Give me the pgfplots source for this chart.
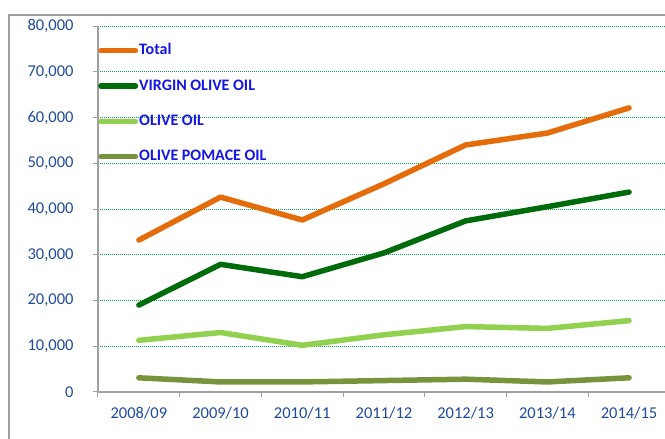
\documentclass[border=0pt]{standalone}
\usepackage{fontspec}
\setmainfont{Carlito}
\usepackage{pgfplots}
\pgfplotsset{compat=1.18}
\definecolor{cTotal}{HTML}{E46C0A}
\definecolor{cVirgin}{HTML}{006B0A}
\definecolor{cOlive}{HTML}{92D050}
\definecolor{cPomace}{HTML}{77933C}
\definecolor{cTick}{HTML}{1F4A9B}
\definecolor{cLeg}{HTML}{1515E6}
\definecolor{cGrid}{HTML}{00B050}
\definecolor{cAxis}{HTML}{A0A0A0}
\begin{document}
\begin{tikzpicture}
\useasboundingbox (0,0) rectangle (665pt,439pt);
\clip (0,0) rectangle (665pt,439pt);
\draw[cAxis, line width=1.5pt] (9pt,0pt) -- (9pt,424pt) -- (680pt,424pt);
\begin{axis}[
  at={(98pt,47pt)}, anchor=south west,
  scale only axis, width=567pt, height=366pt,
  xmin=-0.5, xmax=6.44, ymin=0, ymax=80000,
  axis x line=bottom, axis y line=left,
  axis line style={-, cAxis, line width=1.2pt},
  xtick={0,1,2,3,4,5,6},
  xticklabels={2008/09,2009/10,2010/11,2011/12,2012/13,2013/14,2014/15},
  minor xtick={-0.5,0.5,1.5,2.5,3.5,4.5,5.5},
  ytick={0,10000,20000,30000,40000,50000,60000,70000,80000},
  tick align=outside,
  major tick length=5pt, minor tick length=5pt,
  x tick style={draw=none},
  minor x tick style={draw=cAxis, line width=1pt},
  y tick style={cAxis, line width=1pt},
  ymajorgrids,
  major grid style={cGrid, line width=1pt, dash pattern=on 1pt off 1pt},
  scaled y ticks=false,
  /pgf/number format/.cd, 1000 sep={,}, assume math mode=true,
  /pgfplots/.cd,
  ticklabel style={font=\fontsize{16.5}{18}\selectfont, text=cTick},
  yticklabel style={xshift=-16pt},
  xticklabel style={yshift=-7pt},
  clip=false,
  legend style={at={(0,1)}, anchor=north west, yshift=-16.5pt, draw=none, fill=none,
    inner sep=0pt, row sep=19.3pt, font=\bfseries\fontsize{16}{18}\selectfont, text=cLeg,
    nodes={inner sep=1pt, text height=11pt, text depth=3pt}},
  legend cell align=left,
  legend image code/.code={\draw[#1, line cap=round] (2.5pt,0pt) -- (37pt,0pt);},
  every axis plot/.append style={line width=5.5pt, line cap=round, line join=round, mark=none},
]
\addplot[cTotal] coordinates {(0,33200) (1,42600) (2,37600) (3,45500) (4,54000) (5,56600) (6,62100)};
\addlegendentry{Total}
\addplot[cVirgin] coordinates {(0,19000) (1,27900) (2,25200) (3,30400) (4,37400) (5,40500) (6,43700)};
\addlegendentry{VIRGIN OLIVE OIL}
\addplot[cOlive] coordinates {(0,11300) (1,13000) (2,10200) (3,12500) (4,14300) (5,13900) (6,15600)};
\addlegendentry{OLIVE OIL}
\addplot[cPomace] coordinates {(0,3100) (1,2200) (2,2200) (3,2500) (4,2800) (5,2200) (6,3100)};
\addlegendentry{OLIVE POMACE OIL}
\end{axis}
\end{tikzpicture}
\end{document}
